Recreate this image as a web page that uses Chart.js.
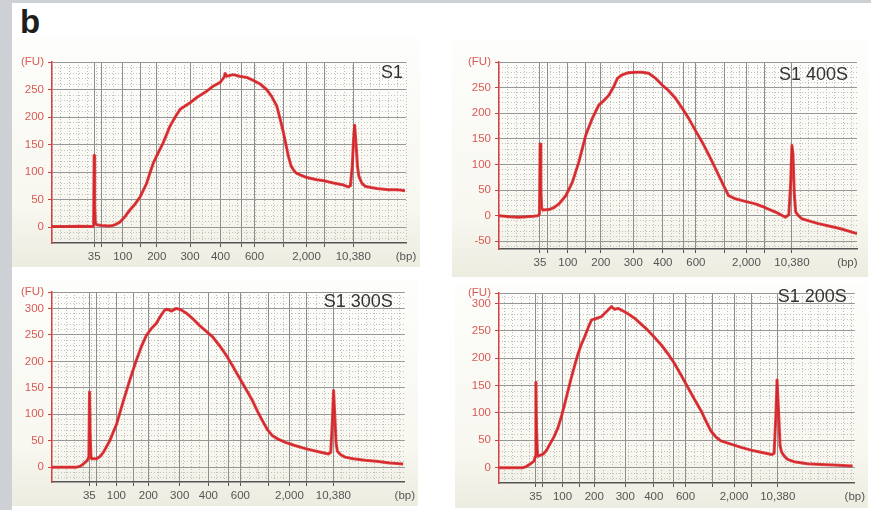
<!DOCTYPE html>
<html>
<head>
<meta charset="utf-8">
<script src="https://cdn.jsdelivr.net/npm/chart.js@4.4.1/dist/chart.umd.min.js"></script>
<style>
body{margin:0;background:#fff;width:871px;height:510px;overflow:hidden;position:relative;font-family:"Liberation Sans",Arial,sans-serif;}
#edge{position:absolute;left:0;top:0;width:12px;height:510px;background:#cdd1d5;}
#edgeTop{position:absolute;left:0;top:0;width:871px;height:3px;background:#cdd1d5;}
#tag{position:absolute;left:20px;top:5px;font-size:33px;line-height:1;font-weight:bold;color:#1e1e1e;}
.panel{position:absolute;background:linear-gradient(#fdfdfb,#f8f7f0 75%,#edece0);}
.panel canvas{position:absolute;left:0;top:0;}
</style>
</head>
<body>
<div id="edge"></div>
<div id="edgeTop"></div>
<div id="tag">b</div>
<script>
"use strict";

// ladder peaks and where they sit on the migration axis
var ladderBp = [35, 50, 100, 150, 200, 300, 400, 500, 600, 1000, 2000, 3000, 10380];
var ladderTime = [11.9, 14.0, 20.0, 25.0, 29.6, 39.0, 47.6, 53.5, 57.2, 65.5, 71.9, 77.1, 85.1];
var ladderLabels = ['35', '', '100', '', '200', '300', '400', '', '600', '', '2,000', '', '10,380'];
var unitLabel = '(bp)';
var fuLabel = '(FU)';
var panelNames = ['S1', 'S1 400S', 'S1 300S', 'S1 200S'];

var fuTicksS1 = [0, 50, 100, 150, 200, 250];
var fuTicks400 = [-50, 0, 50, 100, 150, 200, 250];
var fuTicks300 = [0, 50, 100, 150, 200, 250, 300];
var fuTicks200 = [0, 50, 100, 150, 200, 250, 300];

// S1
var s1Time = [0, 4, 8, 11.5, 11.75, 11.9, 12.05, 12.25, 12.6, 14, 16, 17.2, 18, 19.2, 20.5, 22, 23.5, 24.9, 26.7, 27.5, 28.6, 30, 31.4, 33.3, 34.8, 36.2, 39, 41, 43.7, 45.5, 47.5, 48.6, 48.9, 49.3, 51.2, 53, 55, 57, 58.8, 60.6, 62, 63.5, 64.5, 65.4, 66.8, 67.5, 68.2, 69, 70.1, 72, 74.8, 77, 79.5, 82, 83.7, 84.3, 84.8, 85.2, 85.5, 85.9, 86.3, 86.7, 87.5, 88.5, 90, 91.8, 95, 97.5, 99.7];
var s1FU = [1, 1, 1.5, 1, 3, 130, 40, 8, 4, 3, 2, 3, 5, 9, 18, 31, 42, 55, 79, 95, 116, 135, 153, 183, 200, 214, 226, 236, 247, 256, 263, 272, 279, 274, 277, 274, 272, 266, 260, 250, 238, 220, 195, 171, 128, 112, 104, 98, 95, 90, 86, 84, 80, 77, 73, 75, 110, 160, 185, 150, 110, 92, 80, 74, 72, 70, 68, 68, 66];

// S1 400S
var s400Time = [0, 3, 5.8, 8, 10, 11.3, 11.75, 11.95, 12.15, 12.4, 12.8, 14.5, 16, 17.4, 19.4, 21.3, 23.2, 25.2, 27.1, 29, 30.5, 31.9, 33.2, 34.4, 35.8, 37.5, 39.7, 41.5, 43.5, 45.5, 47.4, 49.3, 51.3, 53.2, 55.1, 57, 59, 61, 62.9, 64.8, 66.7, 68.7, 71.5, 74.5, 76.5, 78.3, 81, 83.2, 84.2, 84.7, 85.1, 85.4, 85.8, 86.2, 87, 88, 90, 92.5, 95.8, 99, 101, 103, 104];
var s400FU = [0, -2, -3, -2, -1, 0, 3, 140, 50, 15, 11, 12, 16, 23, 39, 65, 105, 157, 190, 216, 225, 235, 250, 268, 275, 279, 280, 280, 278, 268, 255, 244, 229, 210, 190, 167, 144, 118, 92, 65, 39, 33, 28, 23, 18, 13, 5, -3, 2, 60, 137, 120, 40, 7, 0, -6, -10, -15, -20, -25, -29, -33, -35];

// S1 300S
var s300Time = [0.7, 4, 8.1, 9.2, 10.1, 11.3, 11.75, 11.95, 12.15, 12.4, 12.6, 14.1, 15.1, 16.1, 18.1, 20.1, 22, 24, 26, 27.5, 29, 30.5, 32, 33.2, 34.5, 35.5, 36.5, 38, 39.5, 41, 43, 44.9, 46.9, 48.9, 50.9, 52.9, 54.8, 56.8, 58.8, 60.8, 62.3, 63.8, 65.2, 66.7, 68.5, 70.7, 73.5, 76.7, 80, 83.6, 84.3, 84.8, 85.15, 85.5, 85.9, 86.3, 87.2, 88.6, 91, 94.6, 98, 102, 106];
var s300FU = [0, 0, 0, 2, 6, 13, 20, 142, 60, 18, 16, 16, 20, 28, 51, 82, 123, 164, 202, 228, 249, 262, 272, 285, 297, 298, 295, 300, 297, 291, 280, 268, 257, 246, 230, 212, 192, 170, 148, 126, 106, 88, 72, 60, 53, 47, 41, 35, 30, 25, 28, 90, 145, 100, 45, 30, 24, 19, 16, 13, 11, 8, 6];

// S1 200S
var s200Time = [0.8, 4, 8.1, 9, 10.1, 11.4, 11.75, 11.95, 12.15, 12.45, 12.7, 14.2, 15.2, 16.2, 17.5, 18.7, 19.7, 20.7, 21.7, 22.7, 23.7, 24.7, 25.7, 26.7, 27.8, 28.8, 30, 31.8, 32.8, 33.8, 34.8, 35.8, 36.8, 37.8, 39.8, 41.8, 43.8, 45.8, 47.8, 49.9, 51.9, 53.9, 55.9, 57.9, 59.9, 61.9, 63.4, 64.9, 66.4, 67.9, 70.5, 74, 77, 80, 83.3, 84, 84.5, 84.9, 85.3, 85.8, 86.3, 87.2, 88.1, 90, 94.1, 98, 102, 107.7];
var s200FU = [0, 0, 0, 2, 6, 12, 20, 156, 70, 24, 21, 25, 32, 43, 57, 74, 94, 117, 141, 165, 187, 208, 225, 239, 256, 270, 272, 276, 282, 288, 294, 289, 291, 288, 281, 273, 262, 251, 238, 224, 208, 190, 169, 147, 125, 104, 85, 67, 56, 49, 44, 37, 32, 28, 24, 26, 90, 160, 110, 40, 28, 20, 15, 11, 7, 6, 5, 3];

var FONT = '"Liberation Sans", Arial, sans-serif';

var panels = [
	{name: panelNames[0], time: s1Time, fu: s1FU, fuTicks: fuTicksS1, box: [12, 38, 408, 229], yw: 40, xh: 24, pt: 24, pr: 14, xmin: 0, xmax: 100, bpAt: 100, ymin: -29, ymax: 300, dx: 3, dy: 11},
	{name: panelNames[1], time: s400Time, fu: s400FU, fuTicks: fuTicks400, box: [452, 40, 416, 237], yw: 47, xh: 28, pt: 22, pr: 11, xmin: 0, xmax: 104, bpAt: 101.2, ymin: -65, ymax: 300, dx: 9, dy: 13},
	{name: panelNames[2], time: s300Time, fu: s300FU, fuTicks: fuTicks300, box: [12, 280, 406, 226], yw: 40, xh: 24, pt: 12, pr: 11, xmin: 0.7, xmax: 106.5, bpAt: 106.5, ymin: -28, ymax: 331, dx: 12, dy: 10},
	{name: panelNames[3], time: s200Time, fu: s200FU, fuTicks: fuTicks200, box: [455, 282, 413, 226], yw: 44, xh: 25, pt: 11, pr: 12, xmin: 0.8, xmax: 108.4, bpAt: 108.4, ymin: -28, ymax: 319, dx: 8, dy: 4}
];

var panelLabel = {
	id: 'panelLabel',
	afterDatasetsDraw: function (chart, args, opts) {
		var ctx = chart.ctx, a = chart.chartArea;
		ctx.save();
		ctx.font = '18px ' + FONT;
		ctx.fillStyle = '#333';
		ctx.textAlign = 'right';
		ctx.textBaseline = 'middle';
		ctx.fillText(opts.text, a.right - opts.dx, a.top + opts.dy);
		ctx.restore();
	}
};

function stepTicks(from, to, step) {
	var out = [];
	for (var v = Math.ceil(from / step) * step; v <= to; v += step) {
		out.push({value: v});
	}
	return out;
}

function makeChart(p) {
	var div = document.createElement('div');
	div.className = 'panel';
	div.style.left = p.box[0] + 'px';
	div.style.top = p.box[1] + 'px';
	div.style.width = p.box[2] + 'px';
	div.style.height = p.box[3] + 'px';
	var cv = document.createElement('canvas');
	cv.width = p.box[2];
	cv.height = p.box[3];
	div.appendChild(cv);
	document.body.appendChild(div);

	var pts = p.time.map(function (t, i) {
		return {x: t, y: p.fu[i]};
	});
	var nLadder = ladderTime.length;

	return new Chart(cv, {
		type: 'line',
		data: {
			datasets: [{
				data: pts,
				borderColor: 'rgba(218,40,44,0.85)',
				borderWidth: 3
			}, {
				data: pts,
				borderColor: '#a8141b',
				borderWidth: 1.3
			}]
		},
		options: {
			responsive: false,
			animation: false,
			devicePixelRatio: 1,
			layout: {padding: {top: p.pt, right: p.pr, left: 0, bottom: 0}},
			elements: {
				point: {radius: 0},
				line: {tension: 0, borderJoinStyle: 'round'}
			},
			plugins: {
				legend: {display: false},
				tooltip: {enabled: false},
				panelLabel: {text: p.name, dx: p.dx, dy: p.dy}
			},
			scales: {
				xm: {
					type: 'linear', position: 'bottom', min: p.xmin, max: p.xmax, z: -1,
					afterBuildTicks: function (s) { s.ticks = stepTicks(p.xmin, p.xmax, 2.5); },
					ticks: {display: false},
					grid: {drawTicks: false, color: '#bcbcbc', lineWidth: 1},
					border: {display: false, dash: [1, 2]},
					afterFit: function (s) { s.height = 0; }
				},
				ym: {
					type: 'linear', position: 'left', min: p.ymin, max: p.ymax, z: -1,
					afterBuildTicks: function (s) { s.ticks = stepTicks(p.ymin, p.ymax, 10); },
					ticks: {display: false},
					grid: {drawTicks: false, color: '#c2c2c2', lineWidth: 1},
					border: {display: false, dash: [1, 2]},
					afterFit: function (s) { s.width = 0; }
				},
				x: {
					type: 'linear', position: 'bottom', min: p.xmin, max: p.xmax,
					afterBuildTicks: function (s) {
						s.ticks = ladderTime.map(function (v) { return {value: v}; }).concat([{value: p.bpAt}]);
					},
					ticks: {
						autoSkip: false, maxRotation: 0, color: '#555', padding: 3,
						font: {family: FONT, size: 11.5},
						callback: function (v, i) { return i < nLadder ? ladderLabels[i] : unitLabel; }
					},
					grid: {
						lineWidth: 1, tickLength: 4,
						color: function (c) { return c.index >= nLadder ? 'rgba(0,0,0,0)' : '#8e8e8e'; },
						tickColor: function (c) { return c.index >= nLadder ? 'rgba(0,0,0,0)' : '#555'; }
					},
					border: {color: '#555', width: 1.5},
					afterFit: function (s) { s.height = p.xh; }
				},
				y: {
					type: 'linear', position: 'left', min: p.ymin, max: p.ymax,
					afterBuildTicks: function (s) {
						s.ticks = [{value: p.ymin}].concat(p.fuTicks.map(function (v) { return {value: v}; }), [{value: p.ymax}]);
					},
					ticks: {
						autoSkip: false, color: '#d95a55', padding: 4,
						font: {family: FONT, size: 11.5},
						callback: function (v, i, t) {
							if (i === 0) return '';
							if (i === t.length - 1) return fuLabel;
							return String(v);
						}
					},
					grid: {
						lineWidth: 1, tickLength: 4,
						color: function (c) { return c.index === 0 ? 'rgba(0,0,0,0)' : '#979797'; },
						tickColor: function (c) { return c.index === 0 ? 'rgba(0,0,0,0)' : '#d8403f'; }
					},
					border: {color: '#d8403f', width: 1.5},
					afterFit: function (s) { s.width = p.yw; }
				}
			}
		},
		plugins: [panelLabel]
	});
}

panels.forEach(makeChart);
</script>
</body>
</html>
